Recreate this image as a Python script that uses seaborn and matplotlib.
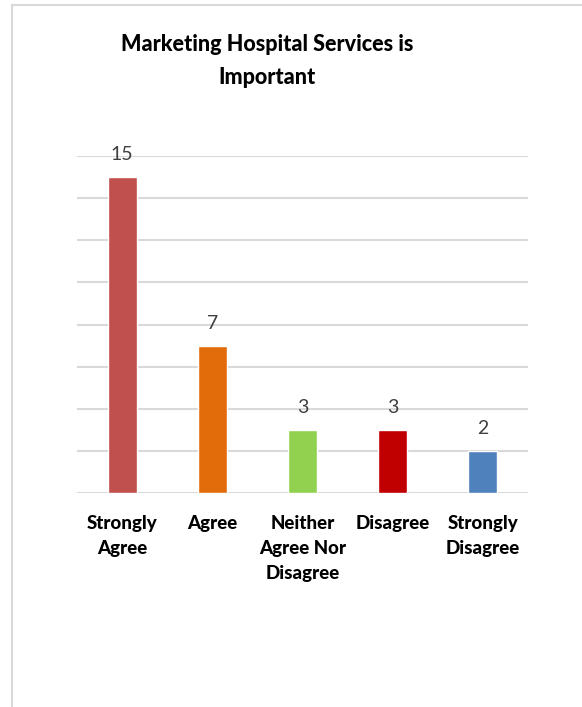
import matplotlib
matplotlib.use("Agg")
import matplotlib.pyplot as plt
import seaborn as sns
import pandas as pd
from matplotlib.patches import Rectangle

categories = ["Strongly\nAgree", "Agree", "Neither\nAgree Nor\nDisagree", "Disagree", "Strongly\nDisagree"]
counts = [15, 7, 3, 3, 2]
bar_colors = ["#c0504d", "#e36c0a", "#92d050", "#c00000", "#4f81bd"]
title = "Marketing Hospital Services is\nImportant"

sns.set_theme(style="white")
plt.rcParams["font.family"] = ["Lato", "DejaVu Sans"]

df = pd.DataFrame({"category": categories, "count": counts})

fig = plt.figure(figsize=(5.82, 7.07), dpi=100)
ax = fig.add_axes([77 / 582, 1 - 493 / 707, 451 / 582, 337 / 707])

sns.barplot(data=df, x="category", y="count", hue="category", palette=bar_colors,
            legend=False, width=0.32, ax=ax, saturation=1)

ax.set_ylim(0, 16)
ax.set_xlim(-0.5, 4.5)
ax.set_yticks(range(0, 17, 2))
ax.yaxis.grid(True, color="#d9d9d9", linewidth=1.5)
ax.set_axisbelow(True)
ax.tick_params(axis="y", left=False, labelleft=False)
ax.tick_params(axis="x", bottom=False, pad=10)
for s in ax.spines.values():
    s.set_visible(False)
ax.set_xlabel("")
ax.set_ylabel("")

for lbl in ax.get_xticklabels():
    lbl.set_fontweight("black")
    lbl.set_fontsize(13.5)
    lbl.set_color("#000000")
    lbl.set_linespacing(1.55)
    lbl.set_verticalalignment("top")

for container in ax.containers:
    ax.bar_label(container, fmt="%d", padding=10, fontsize=14, color="#404040")

fig.text(267 / 582, 1 - 61 / 707, title, ha="center", va="center", fontsize=15.5,
         fontweight="black", color="#000000", linespacing=1.7)

# light frame around the chart area
fig.patches.append(Rectangle((12 / 582, -0.05), 1.2, 1 - 5 / 707 + 0.05,
                             transform=fig.transFigure, fill=False,
                             edgecolor="#d9d9d9", linewidth=1.5))

fig.savefig("out.png", dpi=100)
